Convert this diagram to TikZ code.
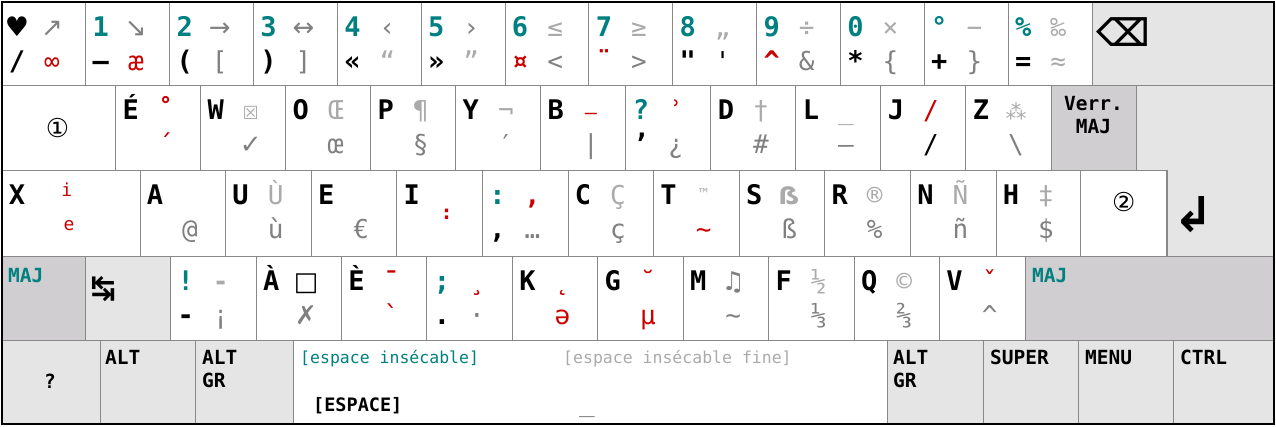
\documentclass[tikz,border=0pt]{standalone}
\usepackage{fontspec}
\setmonofont{DejaVu Sans Mono}
\newfontfamily\symf{DejaVu Sans}
\usepackage{tikz}
\usepackage{xcolor}
\definecolor{numteal}{RGB}{0,128,128}
\definecolor{deadred}{RGB}{204,0,0}
\definecolor{altgr}{RGB}{128,128,128}
\definecolor{altgrsh}{RGB}{170,170,170}
\definecolor{keyline}{RGB}{136,136,136}
\definecolor{modfill}{RGB}{229,229,229}
\definecolor{capsfill}{RGB}{208,206,208}

\begin{document}
\begin{tikzpicture}[x=1pt, y=-1pt,
  keycap/.style={draw=keyline, line width=1pt, fill=white, inner sep=0pt},
  modkey/.style={keycap, fill=modfill},
  capskey/.style={keycap, fill=capsfill},
  hi/.style={font=\ttfamily\bfseries\fontsize{27}{27}\selectfont, anchor=base, inner sep=0pt},
  sym/.style={font=\ttfamily\fontsize{26}{26}\selectfont, anchor=base, inner sep=0pt},
  modlbl/.style={font=\ttfamily\bfseries\fontsize{19.5}{23}\selectfont, inner sep=0pt},
  spclbl/.style={font=\ttfamily\fontsize{16.5}{18}\selectfont, anchor=base west, inner sep=0pt}]
\useasboundingbox (0,0) rectangle (1276,426);

% number row
\foreach \tl/\bl/\tr/\br [count=\i from 0] in {
  {\textcolor{black}{\symf ♥}}/{/}/{\textcolor{altgr}{\symf ↗}}/{\textcolor{deadred}{∞}},
  1/{–}/{\textcolor{altgr}{\symf ↘}}/{\textcolor{deadred}{æ}},
  2/{(}/{\textcolor{altgr}{\symf →}}/{[},
  3/{)}/{\textcolor{altgr}{\symf ↔}}/{]},
  4/{«}/{\textcolor{altgr}{‹}}/{\textcolor{altgrsh}{“}},
  5/{»}/{\textcolor{altgr}{›}}/{\textcolor{altgrsh}{”}},
  6/{\textcolor{deadred}{¤}}/{≤}/{<},
  7/{\textcolor{deadred}{¨}}/{≥}/{>},
  8/{"}/{„}/{\textcolor{black}{'}},
  9/{\textcolor{deadred}{\textasciicircum}}/{÷}/{\&},
  0/{*}/{×}/{\{},
  {°}/{+}/{−}/{\}},
  {\%}/{=}/{‰}/{\textcolor{altgrsh}{≈}}}{
  \pgfmathsetmacro\xa{2+83.85*\i}
  \node[keycap, minimum width=83.85pt, minimum height=83pt] (r1k\i) at (\xa+41.92,43.5) {};
  \node[hi, text=numteal] (r1tl\i) at (\xa+15,36) {\tl};
  \node[hi] (r1bl\i) at (\xa+15,70) {\bl};
  \node[sym, text=altgrsh] (r1tr\i) at (\xa+50,36) {\tr};
  \node[sym, text=altgr] (r1br\i) at (\xa+50,70) {\br};
}
\node[modkey, minimum width=182pt, minimum height=83pt] (bksp) at (1183,43.5) {};
\node[font=\symf\bfseries\fontsize{38}{38}\selectfont, inner sep=0pt] (bksplbl) at (1123,32) {⌫};

% top letter row
\node[keycap, minimum width=113.7pt, minimum height=85pt] (r2lead) at (58.85,127.5) {};
\node[font=\symf\fontsize{26}{26}\selectfont, inner sep=0pt] (r2leadlbl) at (57.5,128) {①};
\foreach \tl/\tr/\br [count=\i from 0] in {
  É/{\textcolor{deadred}{\bfseries ˚}}/{\textcolor{deadred}{´}},
  W/{\symf\fontsize{18}{18}\selectfont ☒}/{\symf ✓},
  O/Œ/œ,
  P/¶/§,
  Y/¬/{\symf ′},
  B/{\textcolor{deadred}{\fontsize{20}{20}\selectfont –}}/{|},
  {\textcolor{numteal}{?}}/{\textcolor{deadred}{ʾ}}/¿,
  D/†/{\#},
  L/{\_}/—,
  J/{\textcolor{deadred}{/}}/{\textcolor{black}{/}},
  Z/{\symf\fontsize{21}{21}\selectfont ⁂}/{\textbackslash}}{
  \pgfmathsetmacro\xa{115.7+85.03*\i}
  \node[keycap, minimum width=85.03pt, minimum height=85pt] (r2k\i) at (\xa+42.5,127.5) {};
  \node[hi] (r2tl\i) at (\xa+15,119) {\tl};
  \node[sym, text=altgrsh] (r2tr\i) at (\xa+50,119) {\tr};
  \node[sym, text=altgr] (r2br\i) at (\xa+50,153) {\br};
}
\node[hi] (r2qbl) at (640.9,153) {’};
\node[capskey, minimum width=85pt, minimum height=85pt] (caps) at (1093.5,127.5) {};
\node[modlbl, align=center, anchor=north] (capslbl) at (1093.5,96.5) {Verr.\\MAJ};

% home row
\node[keycap, minimum width=138pt, minimum height=86pt] (r3lead) at (71,213) {};
\node[hi] (r3x) at (17,204) {X};
\node[font=\ttfamily\fontsize{18}{18}\selectfont, text=deadred, anchor=base, inner sep=0pt] (r3xi) at (66.7,196) {i};
\node[font=\ttfamily\fontsize{18}{18}\selectfont, text=deadred, anchor=base, inner sep=0pt] (r3xe) at (69,230) {e};
\foreach \tl/\tr/\br [count=\i from 0] in {
  A/{}/@,
  U/Ù/ù,
  E/{}/€,
  I/{}/{},
  {\textcolor{numteal}{:}}/{\textcolor{deadred}{\bfseries ,}}/…,
  C/Ç/ç,
  T/{\fontsize{15}{15}\selectfont\raisebox{5pt}{™}}/{\textcolor{deadred}{\textasciitilde}},
  S/{\symf\bfseries\fontsize{24}{24}\selectfont ẞ}/ß,
  R/®/{\%},
  N/Ñ/ñ,
  H/‡/{\$}}{
  \pgfmathsetmacro\xa{140+85.6*\i}
  \node[keycap, minimum width=85.6pt, minimum height=86pt] (r3k\i) at (\xa+42.8,213) {};
  \node[hi] (r3tl\i) at (\xa+15,204) {\tl};
  \node[sym, text=altgrsh] (r3tr\i) at (\xa+50,204) {\tr};
  \node[sym, text=altgr] (r3br\i) at (\xa+50,238) {\br};
}
\node[font=\ttfamily\bfseries\fontsize{20}{20}\selectfont, text=deadred, anchor=base, inner sep=0pt] (r3idead) at (446.7,219.5) {:};
\node[hi] (r3cbl) at (497.4,238) {,};
\node[keycap, minimum width=86pt, minimum height=86pt] (r3two) at (1123.7,213) {};
\node[font=\symf\fontsize{26}{26}\selectfont, inner sep=0pt] (r3twolbl) at (1123.7,202) {②};
\draw[draw=keyline, line width=1pt, fill=modfill] (1136,85) -- (1274,85) -- (1274,256)
  -- (1167,256) -- (1167,170) -- (1136,170) -- cycle;
\node[font=\symf\bfseries\fontsize{48}{48}\selectfont, inner sep=0pt] (enterlbl) at (1194,215) {↲};

% bottom letter row
\node[capskey, minimum width=83pt, minimum height=84pt] (lshift) at (43.5,298) {};
\node[modlbl, text=numteal, anchor=base west] (lshiftlbl) at (8,282) {MAJ};
\node[modkey, minimum width=85.7pt, minimum height=84pt] (tabkey) at (127.85,298) {};
\node[font=\symf\bfseries\fontsize{30}{30}\selectfont, inner sep=0pt] (tablbl) at (103.3,289) {↹};
\foreach \tl/\tr/\br [count=\i from 0] in {
  {\textcolor{numteal}{!}}/{\bfseries -}/¡,
  À/{\textcolor{black}{\symf □}}/{\symf ✗},
  È/{\textcolor{deadred}{\bfseries ¯}}/{\textcolor{deadred}{`}},
  {\textcolor{numteal}{;}}/{\textcolor{deadred}{¸}}/·,
  K/{\textcolor{deadred}{˛}}/{\textcolor{deadred}{ə}},
  G/{\textcolor{deadred}{˘}}/{\textcolor{deadred}{µ}},
  M/{\textcolor{altgr}{\symf ♫}}/{\textasciitilde},
  F/½/⅓,
  Q/©/⅔,
  V/{\textcolor{deadred}{ˇ}}/{\textasciicircum}}{
  \pgfmathsetmacro\xa{170.7+85.43*\i}
  \node[keycap, minimum width=85.43pt, minimum height=84pt] (r4k\i) at (\xa+42.7,298) {};
  \node[hi] (r4tl\i) at (\xa+15,290) {\tl};
  \node[sym, text=altgrsh] (r4tr\i) at (\xa+50,290) {\tr};
  \node[sym, text=altgr] (r4br\i) at (\xa+50,324) {\br};
}
\node[hi] (r4xbl) at (185.7,324) {-};
\node[hi] (r4pbl) at (442,324) {.};
\node[capskey, minimum width=249pt, minimum height=84pt] (rshift) at (1149.5,298) {};
\node[modlbl, text=numteal, anchor=base west] (rshiftlbl) at (1032,282) {MAJ};

% space row
\node[modkey, minimum width=98pt, minimum height=84pt] (fnkey) at (51,382) {};
\node[modlbl] (fnlbl) at (50,381) {?};
\node[modkey, minimum width=95pt, minimum height=84pt] (lalt) at (147.5,382) {};
\node[modlbl, anchor=base west] (laltlbl) at (105,364) {ALT};
\node[modkey, minimum width=98pt, minimum height=84pt] (laltgr) at (244,382) {};
\node[modlbl, align=left, anchor=north west] (laltgrlbl) at (202,349.8) {ALT\\GR};
\node[keycap, minimum width=594pt, minimum height=84pt] (space) at (590,382) {};
\node[spclbl, text=numteal] (nbsp) at (300,363) {[espace insécable]};
\node[spclbl, text=altgrsh] (nnbsp) at (563,363) {[espace insécable fine]};
\node[modlbl, anchor=base west, font=\ttfamily\bfseries\fontsize{18.5}{20}\selectfont] (spacelbl) at (313,411) {[ESPACE]};
\node[sym, text=altgr] (spacealt) at (587,411) {\_};
\node[modkey, minimum width=96pt, minimum height=84pt] (raltgr) at (935,382) {};
\node[modlbl, align=left, anchor=north west] (raltgrlbl) at (893,349.8) {ALT\\GR};
\node[modkey, minimum width=95pt, minimum height=84pt] (super) at (1030.5,382) {};
\node[modlbl, anchor=base west] (superlbl) at (990,364) {SUPER};
\node[modkey, minimum width=95pt, minimum height=84pt] (menu) at (1125.5,382) {};
\node[modlbl, anchor=base west] (menulbl) at (1085,364) {MENU};
\node[modkey, minimum width=101pt, minimum height=84pt] (ctrl) at (1223.5,382) {};
\node[modlbl, anchor=base west] (ctrllbl) at (1180,364) {CTRL};

\draw[line width=2.5pt] (2,2) rectangle (1274,424);
\end{tikzpicture}
\end{document}
